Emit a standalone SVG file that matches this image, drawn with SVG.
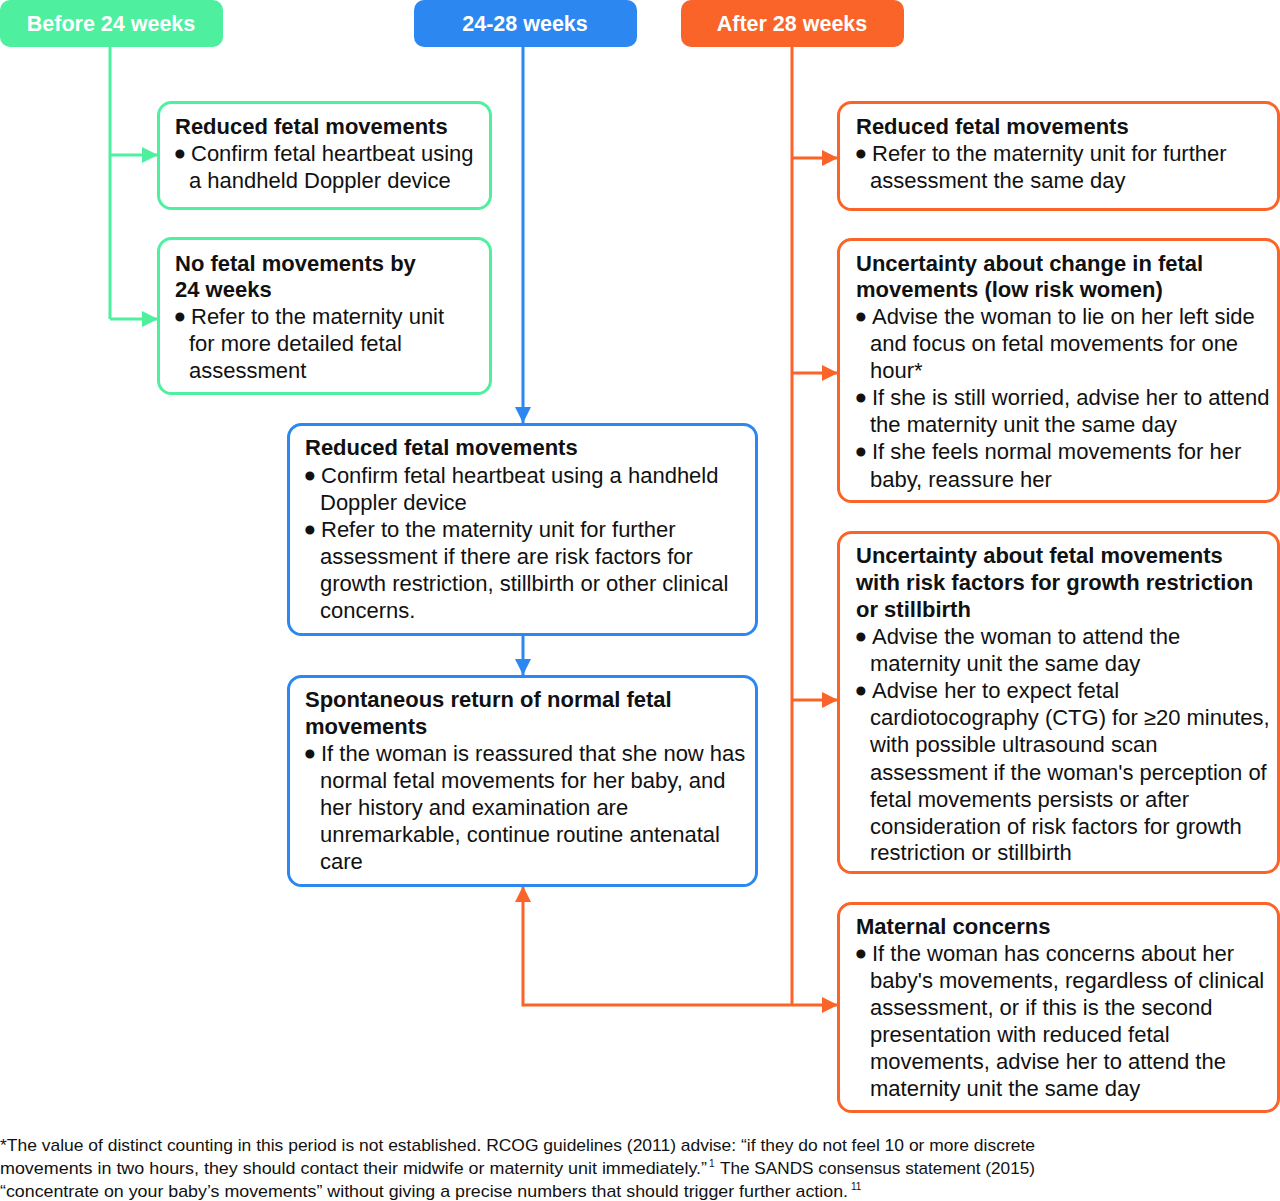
<svg xmlns="http://www.w3.org/2000/svg" width="1280" height="1201" viewBox="0 0 1280 1201">
<style>
.t{font-family:"Liberation Sans",Arial,sans-serif;font-size:22px;fill:#111}
.b{font-weight:bold}
.bt{stroke:#111;stroke-width:3;stroke-linejoin:round}
.h{font-family:"Liberation Sans",Arial,sans-serif;font-size:21.5px;font-weight:bold;fill:#fff;text-anchor:middle}
.fn{font-family:"Liberation Sans",Arial,sans-serif;font-size:17px;fill:#111}
.gbox{fill:#fff;stroke:#4ef0a0;stroke-width:3}
.bbox{fill:#fff;stroke:#2c87f0;stroke-width:3}
.obox{fill:#fff;stroke:#fa6428;stroke-width:3}
.gl{stroke:#4ef0a0;stroke-width:3;fill:none}
.bl{stroke:#2c87f0;stroke-width:3;fill:none}
.ol{stroke:#fa6428;stroke-width:3;fill:none}
</style>
<defs>
<marker id="ag" markerUnits="userSpaceOnUse" markerWidth="18" markerHeight="18" refX="16" refY="8" orient="auto"><path d="M0,0 L16,8 L0,16 Z" fill="#4ef0a0"/></marker>
<marker id="ab" markerUnits="userSpaceOnUse" markerWidth="18" markerHeight="18" refX="16" refY="8" orient="auto"><path d="M0,0 L16,8 L0,16 Z" fill="#2c87f0"/></marker>
<marker id="ao" markerUnits="userSpaceOnUse" markerWidth="18" markerHeight="18" refX="16" refY="8" orient="auto"><path d="M0,0 L16,8 L0,16 Z" fill="#fa6428"/></marker>
</defs>

<g id="connectors">
<path class="gl" d="M110,47 V319"/>
<path class="gl" d="M110,155 H158" marker-end="url(#ag)"/>
<path class="gl" d="M110,319 H158" marker-end="url(#ag)"/>
<path class="bl" d="M523,47 V423" marker-end="url(#ab)"/>
<path class="bl" d="M523,635 V675" marker-end="url(#ab)"/>
<path class="ol" d="M792,47 V1005"/>
<path class="ol" d="M792,158 H838" marker-end="url(#ao)"/>
<path class="ol" d="M792,373 H838" marker-end="url(#ao)"/>
<path class="ol" d="M792,700 H838" marker-end="url(#ao)"/>
<path class="ol" d="M792,1005 H838" marker-end="url(#ao)"/>
<path class="ol" d="M792,1005 H523 V886" marker-end="url(#ao)"/>
</g>

<g id="hdr-before24">
<rect x="0" y="0" width="223" height="47" rx="10" fill="#4ef0a0"/>
<text class="h" x="111" y="31">Before 24 weeks</text>
</g>
<g id="hdr-24-28">
<rect x="414" y="0" width="223" height="47" rx="10" fill="#2c87f0"/>
<text class="h" x="525" y="31">24-28 weeks</text>
</g>
<g id="hdr-after28">
<rect x="681" y="0" width="223" height="47" rx="10" fill="#fa6428"/>
<text class="h" x="792" y="31">After 28 weeks</text>
</g>

<g id="g1">
<rect class="gbox" x="158.5" y="102.5" width="332" height="106" rx="13"/>
<text class="t b" x="175" y="134">Reduced fetal movements</text>
<text class="t" x="176" y="161"><tspan class="bt">•</tspan><tspan x="191">Confirm fetal heartbeat using</tspan></text>
<text class="t" x="189" y="188">a handheld Doppler device</text>
</g>

<g id="g2">
<rect class="gbox" x="158.5" y="238.5" width="332" height="155" rx="13"/>
<text class="t b" x="175" y="271">No fetal movements by</text>
<text class="t b" x="175" y="297">24 weeks</text>
<text class="t" x="176" y="324"><tspan class="bt">•</tspan><tspan x="191">Refer to the maternity unit</tspan></text>
<text class="t" x="189" y="351">for more detailed fetal</text>
<text class="t" x="189" y="378">assessment</text>
</g>

<g id="b1">
<rect class="bbox" x="288.5" y="424.5" width="468" height="210" rx="13"/>
<text class="t b" x="305" y="455">Reduced fetal movements</text>
<text class="t" x="306" y="483"><tspan class="bt">•</tspan><tspan x="321">Confirm fetal heartbeat using a handheld</tspan></text>
<text class="t" x="320" y="510">Doppler device</text>
<text class="t" x="306" y="537"><tspan class="bt">•</tspan><tspan x="321">Refer to the maternity unit for further</tspan></text>
<text class="t" x="320" y="564">assessment if there are risk factors for</text>
<text class="t" x="320" y="591">growth restriction, stillbirth or other clinical</text>
<text class="t" x="320" y="618">concerns.</text>
</g>

<g id="b2">
<rect class="bbox" x="288.5" y="676.5" width="468" height="209" rx="13"/>
<text class="t b" x="305" y="707">Spontaneous return of normal fetal</text>
<text class="t b" x="305" y="734">movements</text>
<text class="t" x="306" y="761"><tspan class="bt">•</tspan><tspan x="321">If the woman is reassured that she now has</tspan></text>
<text class="t" x="320" y="788">normal fetal movements for her baby, and</text>
<text class="t" x="320" y="815">her history and examination are</text>
<text class="t" x="320" y="842">unremarkable, continue routine antenatal</text>
<text class="t" x="320" y="869">care</text>
</g>

<g id="o1">
<rect class="obox" x="838.5" y="102.5" width="440" height="107" rx="13"/>
<text class="t b" x="856" y="134">Reduced fetal movements</text>
<text class="t" x="857" y="161"><tspan class="bt">•</tspan><tspan x="872">Refer to the maternity unit for further</tspan></text>
<text class="t" x="870" y="188">assessment the same day</text>
</g>

<g id="o2">
<rect class="obox" x="838.5" y="239.5" width="440" height="262" rx="13"/>
<text class="t b" x="856" y="271">Uncertainty about change in fetal</text>
<text class="t b" x="856" y="297">movements (low risk women)</text>
<text class="t" x="857" y="324"><tspan class="bt">•</tspan><tspan x="872">Advise the woman to lie on her left side</tspan></text>
<text class="t" x="870" y="351">and focus on fetal movements for one</text>
<text class="t" x="870" y="378">hour*</text>
<text class="t" x="857" y="405"><tspan class="bt">•</tspan><tspan x="872">If she is still worried, advise her to attend</tspan></text>
<text class="t" x="870" y="432">the maternity unit the same day</text>
<text class="t" x="857" y="459"><tspan class="bt">•</tspan><tspan x="872">If she feels normal movements for her</tspan></text>
<text class="t" x="870" y="487">baby, reassure her</text>
</g>

<g id="o3">
<rect class="obox" x="838.5" y="532.5" width="440" height="340" rx="13"/>
<text class="t b" x="856" y="563">Uncertainty about fetal movements</text>
<text class="t b" x="856" y="590">with risk factors for growth restriction</text>
<text class="t b" x="856" y="617">or stillbirth</text>
<text class="t" x="857" y="644"><tspan class="bt">•</tspan><tspan x="872">Advise the woman to attend the</tspan></text>
<text class="t" x="870" y="671">maternity unit the same day</text>
<text class="t" x="857" y="698"><tspan class="bt">•</tspan><tspan x="872">Advise her to expect fetal</tspan></text>
<text class="t" x="870" y="725">cardiotocography (CTG) for ≥20 minutes,</text>
<text class="t" x="870" y="752">with possible ultrasound scan</text>
<text class="t" x="870" y="780">assessment if the woman's perception of</text>
<text class="t" x="870" y="807">fetal movements persists or after</text>
<text class="t" x="870" y="834">consideration of risk factors for growth</text>
<text class="t" x="870" y="860">restriction or stillbirth</text>
</g>

<g id="o4">
<rect class="obox" x="838.5" y="903.5" width="440" height="208" rx="13"/>
<text class="t b" x="856" y="934">Maternal concerns</text>
<text class="t" x="857" y="961"><tspan class="bt">•</tspan><tspan x="872">If the woman has concerns about her</tspan></text>
<text class="t" x="870" y="988">baby's movements, regardless of clinical</text>
<text class="t" x="870" y="1015">assessment, or if this is the second</text>
<text class="t" x="870" y="1042">presentation with reduced fetal</text>
<text class="t" x="870" y="1069">movements, advise her to attend the</text>
<text class="t" x="870" y="1096">maternity unit the same day</text>
</g>

<g id="footnote">
<text class="fn" x="0" y="1151" textLength="1035" lengthAdjust="spacingAndGlyphs">*The value of distinct counting in this period is not established. RCOG guidelines (2011) advise: “if they do not feel 10 or more discrete</text>
<text class="fn" x="0" y="1174" textLength="707" lengthAdjust="spacingAndGlyphs">movements in two hours, they should contact their midwife or maternity unit immediately.”</text>
<text class="fn" x="709" y="1167" style="font-size:10px">1</text>
<text class="fn" x="720" y="1174" textLength="315" lengthAdjust="spacingAndGlyphs">The SANDS consensus statement (2015)</text>
<text class="fn" x="0" y="1197" textLength="848" lengthAdjust="spacingAndGlyphs">“concentrate on your baby’s movements” without giving a precise numbers that should trigger further action.</text>
<text class="fn" x="851" y="1190" style="font-size:10px">11</text>
</g>
</svg>
